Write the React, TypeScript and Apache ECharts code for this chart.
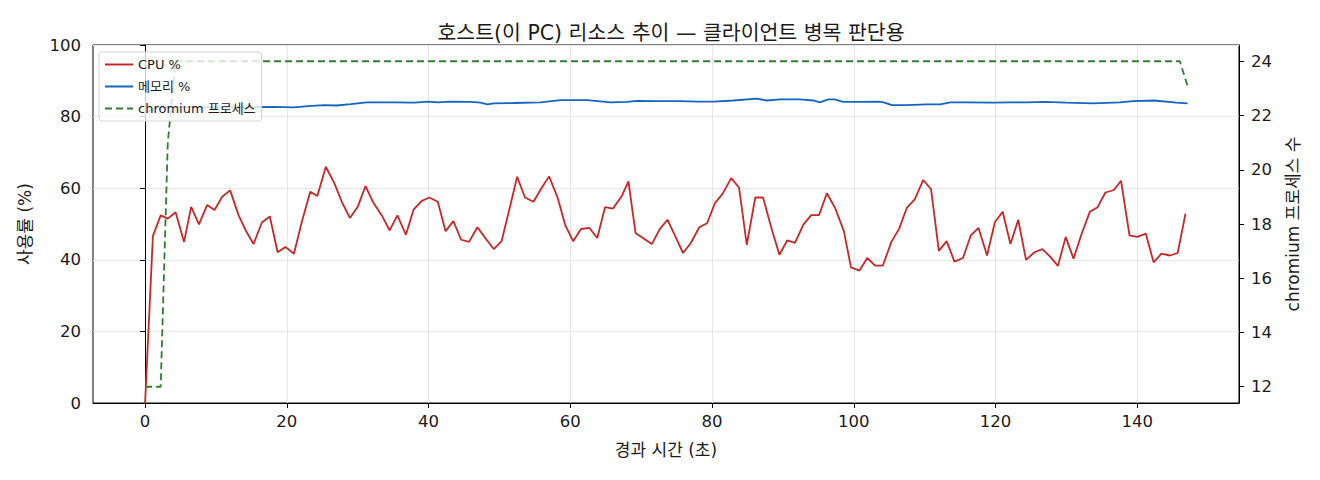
import React, { useRef, useEffect } from 'react';
import * as echarts from 'echarts';

// 경과 시간 (초) — CPU 샘플 시각
const cpuTime = [
    0, 1.1, 2.2, 3.2, 4.3, 5.5, 6.5, 7.6, 8.75, 9.8, 10.9, 12.0, 13.2, 14.2, 15.3, 16.5, 17.6, 18.7, 19.8, 21.0,
    22.1, 23.3, 24.3, 25.5, 26.7, 27.8, 28.9, 30.0, 31.1, 32.2, 33.4, 34.5, 35.6, 36.8, 37.9, 39.0, 40.1, 41.3, 42.4, 43.5,
    44.6, 45.7, 46.9, 48.0, 49.2, 50.3, 51.4, 52.5, 53.6, 54.8, 55.9, 57.0, 58.2, 59.3, 60.4, 61.5, 62.7, 63.8, 64.9, 66.0,
    67.2, 68.2, 69.2, 70.4, 71.5, 72.6, 73.7, 74.8, 75.9, 77.0, 78.2, 79.3, 80.4, 81.5, 82.7, 83.8, 84.9, 86.1, 87.2, 88.3,
    89.5, 90.6, 91.7, 92.9, 94.0, 95.1, 96.2, 97.4, 98.6, 99.6, 100.8, 101.9, 103.0, 104.1, 105.3, 106.4, 107.5, 108.6, 109.8, 110.9,
    112.0, 113.1, 114.2, 115.4, 116.5, 117.6, 118.8, 119.9, 121.0, 122.1, 123.2, 124.3, 125.5, 126.6, 127.7, 128.8, 129.9, 131.0, 132.1, 133.3,
    134.4, 135.5, 136.7, 137.7, 138.9, 140.0, 141.2, 142.3, 143.4, 144.6, 145.7, 146.8,
];
const cpuValues = [
    0, 46.6, 52.4, 51.5, 53.3, 45.0, 54.8, 49.9, 55.3, 53.9, 57.7, 59.4, 52.4, 48.2, 44.4, 50.5, 52.1, 42.1, 43.6, 41.7,
    50.5, 59.0, 57.8, 66.0, 61.4, 56.0, 51.7, 54.8, 60.6, 56.0, 52.4, 48.2, 52.4, 47.0, 54.1, 56.4, 57.4, 56.2, 48.0, 50.8,
    45.6, 45.0, 49.1, 46.1, 43.0, 45.2, 54.1, 63.2, 57.4, 56.2, 59.9, 63.3, 57.4, 49.6, 45.2, 48.6, 48.9, 46.1, 54.7, 54.3,
    57.6, 61.9, 47.5, 45.9, 44.4, 48.5, 51.2, 46.6, 41.9, 44.7, 49.1, 50.2, 55.8, 58.5, 62.8, 60.2, 44.2, 57.4, 57.4, 49.4,
    41.4, 45.4, 44.7, 49.9, 52.5, 52.5, 58.6, 54.3, 48.0, 37.9, 37.0, 40.5, 38.4, 38.4, 45.0, 48.7, 54.6, 56.9, 62.3, 59.7,
    42.5, 45.2, 39.5, 40.5, 46.8, 48.9, 41.2, 50.5, 53.4, 44.4, 51.2, 40.0, 42.1, 43.0, 40.9, 38.3, 46.4, 40.3, 47.0, 53.4,
    54.7, 58.8, 59.5, 62.1, 46.8, 46.4, 47.3, 39.3, 41.7, 41.2, 41.9, 52.9,
];

const memTime = [
    0, 1.1, 2.2, 6, 10, 14, 18, 21, 23, 25.2, 27, 29, 31.3, 35, 38, 40, 41.3, 43, 46, 47.3,
    48.3, 49.2, 52, 55.8, 58.6, 62.4, 65.7, 68, 69.4, 72, 75.5, 78, 80.2, 83, 86.3, 87.7, 89.6, 92.4, 94.3, 95.2,
    96.4, 97.3, 98.5, 101, 103.6, 104.2, 105.4, 107.5, 110.3, 112.2, 113.6, 116, 119.7, 122, 124.4, 127, 130, 133.8, 137.5, 139.4,
    142.4, 145.5, 147.1,
];
const memValues = [
    81.0, 82.0, 82.6, 82.7, 82.6, 82.6, 82.7, 82.6, 82.9, 83.2, 83.1, 83.5, 84.0, 84.0, 83.9, 84.2, 84.0, 84.2, 84.1, 83.9,
    83.4, 83.7, 83.8, 84.0, 84.6, 84.6, 84.0, 84.1, 84.4, 84.3, 84.3, 84.2, 84.2, 84.5, 85.0, 84.5, 84.8, 84.8, 84.5, 84.0,
    84.8, 84.8, 84.1, 84.1, 84.2, 84.0, 83.2, 83.2, 83.4, 83.4, 84.0, 84.0, 83.9, 84.0, 84.0, 84.1, 83.9, 83.7, 84.0, 84.3,
    84.5, 83.9, 83.7,
];

const procTime = [0, 1.1, 2.2, 3.2, 4.3, 146.0, 147.2];
const procCount = [12, 12, 12, 21, 24, 24, 23];

const xTicks = [0, 20, 40, 60, 80, 100, 120, 140];
const rightTicks = [12, 14, 16, 18, 20, 22, 24];

const FONT = "'DejaVu Sans', 'Noto Sans CJK KR', sans-serif";
const INK = '#1a1a1a';

const zip = (xs: number[], ys: number[]) => xs.map((x, i) => [x, ys[i]]);

const App: React.FC = () => {
    const chartRef = useRef<HTMLDivElement>(null);

    useEffect(() => {
        document.body.style.margin = '0';
        if (!chartRef.current) return;
        const chart = echarts.init(chartRef.current, null, { renderer: 'svg' });

        const tickLabel = { color: INK, fontSize: 16.5, fontFamily: FONT };
        const axisName = { color: INK, fontSize: 17, fontFamily: FONT };

        const option: echarts.EChartsOption = {
            animation: false,
            backgroundColor: '#fff',
            title: {
                text: '호스트(이 PC) 리소스 추이 — 클라이언트 병목 판단용',
                left: 666,
                top: 18,
                textAlign: 'center',
                textStyle: { color: INK, fontSize: 20.5, fontWeight: 'normal', fontFamily: FONT },
            },
            grid: {
                left: 93, right: 81, top: 45, bottom: 77,
                show: true, borderColor: '#000', borderWidth: 1, backgroundColor: 'transparent',
            },
            legend: {
                orient: 'vertical',
                left: 99,
                top: 52,
                itemWidth: 28,
                itemHeight: 14,
                itemGap: 9,
                padding: [6, 6, 6, 5],
                backgroundColor: 'rgba(255,255,255,0.8)',
                borderColor: '#d4d4d4',
                borderWidth: 1,
                borderRadius: 3,
                itemStyle: { opacity: 0 },
                textStyle: { color: INK, fontSize: 13, fontFamily: FONT },
            },
            xAxis: {
                type: 'value',
                min: -7.35,
                max: 154.35,
                name: '경과 시간 (초)',
                nameLocation: 'middle',
                nameGap: 38,
                nameTextStyle: axisName,
                axisLine: { show: true, onZero: false, lineStyle: { color: '#000', width: 1 } },
                axisTick: { show: true, inside: false, length: 5, customValues: xTicks, lineStyle: { color: '#000' } },
                axisLabel: { ...tickLabel, margin: 10, customValues: xTicks },
                splitLine: { show: true, lineStyle: { color: '#e6e6e6', width: 1 } },
            },
            yAxis: [
                {
                    type: 'value',
                    min: 0,
                    max: 100,
                    interval: 20,
                    name: '사용률 (%)',
                    nameLocation: 'middle',
                    nameGap: 60,
                    nameTextStyle: axisName,
                    axisLine: { show: true, lineStyle: { color: '#000', width: 1 } },
                    axisTick: { show: true, inside: false, length: 5, lineStyle: { color: '#000' } },
                    axisLabel: { ...tickLabel, margin: 12 },
                    splitLine: { show: true, lineStyle: { color: '#e6e6e6', width: 1 } },
                },
                {
                    type: 'value',
                    position: 'right',
                    min: 11.4,
                    max: 24.6,
                    name: 'chromium 프로세스 수',
                    nameLocation: 'middle',
                    nameGap: 45,
                    nameTextStyle: axisName,
                    axisLine: { show: true, lineStyle: { color: '#000', width: 1 } },
                    axisTick: { show: true, inside: false, length: 5, customValues: rightTicks, lineStyle: { color: '#000' } },
                    axisLabel: { ...tickLabel, margin: 12, customValues: rightTicks },
                    splitLine: { show: false },
                },
            ],
            series: [
                {
                    name: 'CPU %',
                    type: 'line',
                    data: zip(cpuTime, cpuValues),
                    symbol: 'none',
                    lineStyle: { color: '#c62828', width: 1.8 },
                    itemStyle: { color: '#c62828' },
                },
                {
                    name: '메모리 %',
                    type: 'line',
                    data: zip(memTime, memValues),
                    symbol: 'none',
                    lineStyle: { color: '#1565c0', width: 1.8 },
                    itemStyle: { color: '#1565c0' },
                },
                {
                    name: 'chromium 프로세스',
                    type: 'line',
                    yAxisIndex: 1,
                    data: zip(procTime, procCount),
                    symbol: 'none',
                    lineStyle: { color: '#2e7d32', width: 1.8, type: [7, 4] },
                    itemStyle: { color: '#2e7d32' },
                },
            ],
        };

        chart.setOption(option);
        return () => {
            chart.dispose();
        };
    }, []);

    return <div ref={chartRef} style={{ width: 1320, height: 480 }} />;
};

export default App;
